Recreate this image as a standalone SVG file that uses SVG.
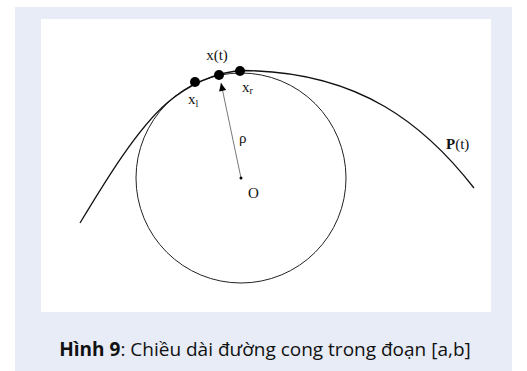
<svg xmlns="http://www.w3.org/2000/svg" width="527" height="371" viewBox="0 0 527 371">
<style>
.lbl{font-family:"Liberation Serif",serif;font-size:15px;fill:#111}
.cap{font-family:"Open Sans",sans-serif;font-size:19px;fill:#111}
.dot{fill:#000}
</style>
<defs>
<marker id="ah" viewBox="0 0 10 10" refX="10" refY="5" markerWidth="15" markerHeight="8" markerUnits="userSpaceOnUse" orient="auto">
<path d="M0,0.5 L10,5 L0,9.5 Z" fill="#000"/>
</marker>
</defs>
<rect x="15" y="7" width="497" height="364" fill="#e7ecf6"/>
<rect x="41" y="19" width="450" height="293" fill="#fff"/>
<g id="circle"><circle cx="241" cy="178" r="105" fill="none" stroke="#222" stroke-width="1"/></g>
<g id="curve"><path d="M80,223 C106,180 137,129 167,103 C186,87 215,71 245,70.5 C360,72 425,125 474,188" fill="none" stroke="#111" stroke-width="1.3"/></g>
<g id="connectors">
<line x1="241" y1="178" x2="221" y2="83" stroke="#555" stroke-width="0.8" marker-end="url(#ah)"/>
</g>
<g id="xl"><circle class="dot" cx="195" cy="82" r="5"/><text class="lbl" x="188" y="104">x<tspan font-size="10" dy="3">l</tspan></text></g>
<g id="xt"><circle class="dot" cx="219" cy="75" r="5"/><text class="lbl" x="217" y="60" text-anchor="middle">x(t)</text></g>
<g id="xr"><circle class="dot" cx="240" cy="71" r="5"/><text class="lbl" x="242" y="92">x<tspan font-size="10" dy="2">r</tspan></text></g>
<g id="rho"><text class="lbl" x="239" y="143" font-size="19">ρ</text></g>
<g id="O"><circle class="dot" cx="241" cy="178" r="1.5"/><text class="lbl" x="248" y="198" font-size="17">O</text></g>
<g id="P"><text class="lbl" x="446" y="149" font-size="16"><tspan font-weight="bold">P</tspan>(t)</text></g>
<text class="cap" x="265" y="356" text-anchor="middle"><tspan font-weight="bold">Hình 9</tspan>: Chiều dài đường cong trong đoạn [a,b]</text>
</svg>
